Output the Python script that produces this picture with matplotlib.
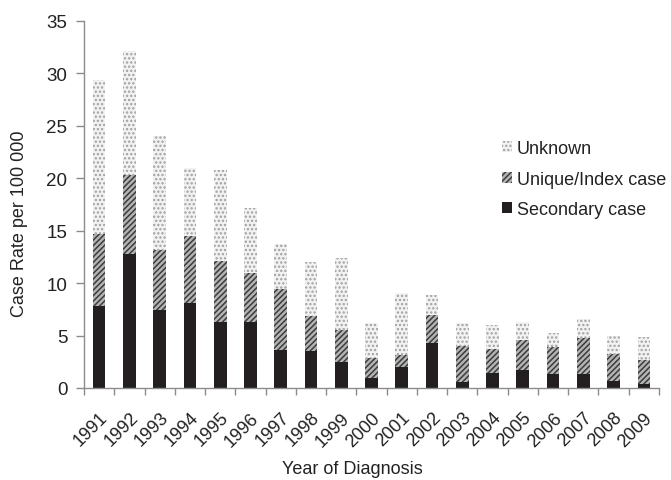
import matplotlib
matplotlib.use("Agg")
import matplotlib.pyplot as plt
import matplotlib.transforms as mtransforms
import numpy as np

years = [str(y) for y in range(1991, 2010)]
# cumulative tops -> segment values
secondary = [7.8, 12.8, 7.4, 8.1, 6.3, 6.3, 3.6, 3.5, 2.5, 1.0, 2.0, 4.3, 0.6, 1.4, 1.7, 1.3, 1.3, 0.7, 0.4]
unique_top = [14.7, 20.3, 13.2, 14.5, 12.1, 11.0, 9.4, 6.9, 5.5, 2.9, 3.1, 7.0, 4.0, 3.7, 4.6, 3.9, 4.8, 3.2, 2.7]
total_top = [29.4, 32.1, 24.0, 21.0, 20.8, 17.2, 13.7, 12.0, 12.4, 6.2, 9.1, 8.9, 6.2, 6.0, 6.3, 5.2, 6.6, 5.0, 4.9]
unique = [u - s for u, s in zip(unique_top, secondary)]
unknown = [t - u for t, u in zip(total_top, unique_top)]

plt.rcParams['font.family'] = ['Liberation Sans', 'DejaVu Sans']
plt.rcParams['hatch.linewidth'] = 1.1

fig = plt.figure(figsize=(6.71, 4.81), dpi=100)
ax = fig.add_axes([84/671, 1-389/481, (659-84)/671, (389-22)/481])

x = np.arange(len(years))
w = 0.42
b1 = ax.bar(x, secondary, w, color='#231f20', linewidth=0, label='Secondary case')
b2 = ax.bar(x, unique, w, bottom=secondary, facecolor='#b4b4b4', edgecolor='#3c3c3c',
            hatch='//////', linewidth=0, label='Unique/Index case')
b3 = ax.bar(x, unknown, w, bottom=unique_top, facecolor='#f2f2f2', edgecolor='#a0a0a0',
            hatch='....', linewidth=0, label='Unknown')

ax.set_xlim(-0.5, len(years) - 0.5)
ax.set_ylim(0, 35)
ax.set_yticks(range(0, 36, 5))
ax.set_xticks(x)
ax.set_xticklabels(years, rotation=45, ha='right', rotation_mode='anchor', fontsize=13, color='#222222')
offset = mtransforms.ScaledTranslation(4/100, 0, fig.dpi_scale_trans)
for lab in ax.get_xticklabels():
    lab.set_transform(lab.get_transform() + offset)
ax.tick_params(axis='x', length=0, pad=15)
ax.set_xticks(np.arange(-0.5, len(years), 1), minor=True)
ax.tick_params(axis='x', which='minor', length=5, color='#8c8c8c', width=1)
ax.tick_params(axis='y', length=6, color='#8c8c8c', width=1, labelsize=13.5, labelcolor='#222222', pad=6)

for s in ['top', 'right']:
    ax.spines[s].set_visible(False)
for s in ['left', 'bottom']:
    ax.spines[s].set_color('#8c8c8c')
    ax.spines[s].set_linewidth(1)

fig.text(20/671, 1-224/481, 'Case Rate per 100 000', fontsize=13, color='#222222',
         ha='center', va='center', rotation=90)
fig.text(352/671, 1-470/481, 'Year of Diagnosis', fontsize=13, color='#222222', ha='center', va='center')

leg = ax.legend(handles=[b3, b2, b1], loc='upper left', bbox_to_anchor=(0.714, 0.695),
                frameon=False, fontsize=13, handlelength=0.55, handleheight=0.55,
                handletextpad=0.3, labelspacing=0.74, labelcolor='#222222', borderaxespad=0)

fig.savefig('out.png', dpi=100)
